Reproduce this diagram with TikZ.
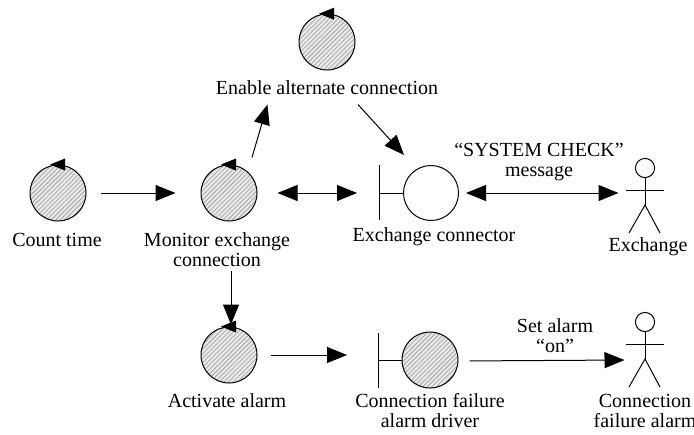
\documentclass[tikz,border=0pt]{standalone}
\usepackage{fontspec}
\setmainfont{Liberation Serif}
\usetikzlibrary{arrows.meta,calc,patterns.meta}
\begin{document}
\begin{tikzpicture}[x=0.5pt,y=-0.5pt,line width=0.5pt,
  every node/.style={font=\fontsize{10}{10}\selectfont},
  ctrl/.style={circle,draw,minimum size=28pt,inner sep=0pt,
    preaction={fill=gray!18},
    pattern={Lines[angle=45,distance=1.6pt,line width=0.3pt]},pattern color=gray!80},
  entity/.style={circle,draw,minimum size=27.5pt,inner sep=0pt},
  lbl/.style={align=center,inner sep=0pt},
  actorbox/.style={minimum width=19pt,minimum height=38pt,inner sep=0pt},
  tip/.tip={Triangle[length=10pt,width=8pt]},
  arr/.style={-tip},
  darr/.style={tip-tip},
  actor/.pic={
    \draw (0,-28) circle[radius=4.8pt];
    \draw (0,-18.5) -- (0,9);
    \draw (-19,-6) -- (19,-6);
    \draw (-16,37) -- (0,9) -- (15,37);
  }]
\useasboundingbox (0,0) rectangle (694,434);

% controls
\node[ctrl] (ena) at (327,42) {};
\node[ctrl] (ct) at (58,193) {};
\node[ctrl] (mon) at (229,193) {};
\node[ctrl] (act) at (229,355) {};
\foreach \n in {ena,ct,mon,act}
  \fill ($(\n.north)+(-8,0)$) -- ++(15,-6) -- ++(0,12) -- cycle;

% labels
\node[lbl] (enal) at (327,88) {Enable alternate connection};
\node[lbl] (ctl) at (57,240) {Count time};
\node[lbl] (monl) at (217,250) {Monitor exchange\\connection};
\node[lbl] (actl) at (227,401) {Activate alarm};

% boundary: exchange connector
\node[entity] (exc) at (431,193) {};
\coordinate (excbar) at (379,193);
\draw ($(excbar)+(0,-28)$) -- ($(excbar)+(0,27)$);
\draw (excbar) -- (exc.west);
\node[lbl] (excl) at (434,237) {Exchange connector};

% boundary: alarm driver
\node[ctrl] (drv) at (430,360) {};
\coordinate (drvbar) at (378,360);
\draw ($(drvbar)+(0,-27)$) -- ($(drvbar)+(0,28)$);
\draw (drvbar) -- (drv.west);
\node[lbl] (drvl) at (430,411) {Connection failure\\alarm driver};

% actors
\node[actorbox] (exa) at (645,196) {};
\pic at (exa) {actor};
\node[lbl] (exal) at (648,247) {Exchange};
\node[actorbox] (ala) at (645,350) {};
\pic at (ala) {actor};
\node[lbl] (alal) at (645,411) {Connection\\failure alarm};

% connectors
\draw[arr,shorten <=7pt,shorten >=12.5pt] (ct.east) -- (mon.west);
\draw[darr,shorten <=10pt,shorten >=11pt] (mon.east) -- (excbar);
\draw[darr,shorten <=3.5pt,shorten >=3.5pt] (exc.east) -- (exa.west|-exc.east);
\node[lbl] (sysl) at (539,162) {``SYSTEM CHECK''\\message};
\draw[arr] ($(mon.north)+(23,-7)$) -- ($(enal.south west)+(52,9)$);
\draw[arr] ($(enal.south)+(31,9)$) -- ($(exc.center)+(-27,-38)$);
\draw[arr] ($(monl.south)+(14,3)$) -- ($(act.north)+(2,-2)$);
\draw[arr,shorten <=6.5pt,shorten >=15.5pt] (act.east) -- (drvbar|-act.east);
\draw[arr,shorten <=5.5pt,shorten >=0.5pt] ($(drv.east)+(0,1)$) -- (ala.west|-drv.east);
\node[lbl] (setl) at (555,336) {Set alarm\\``on''};
\end{tikzpicture}
\end{document}
